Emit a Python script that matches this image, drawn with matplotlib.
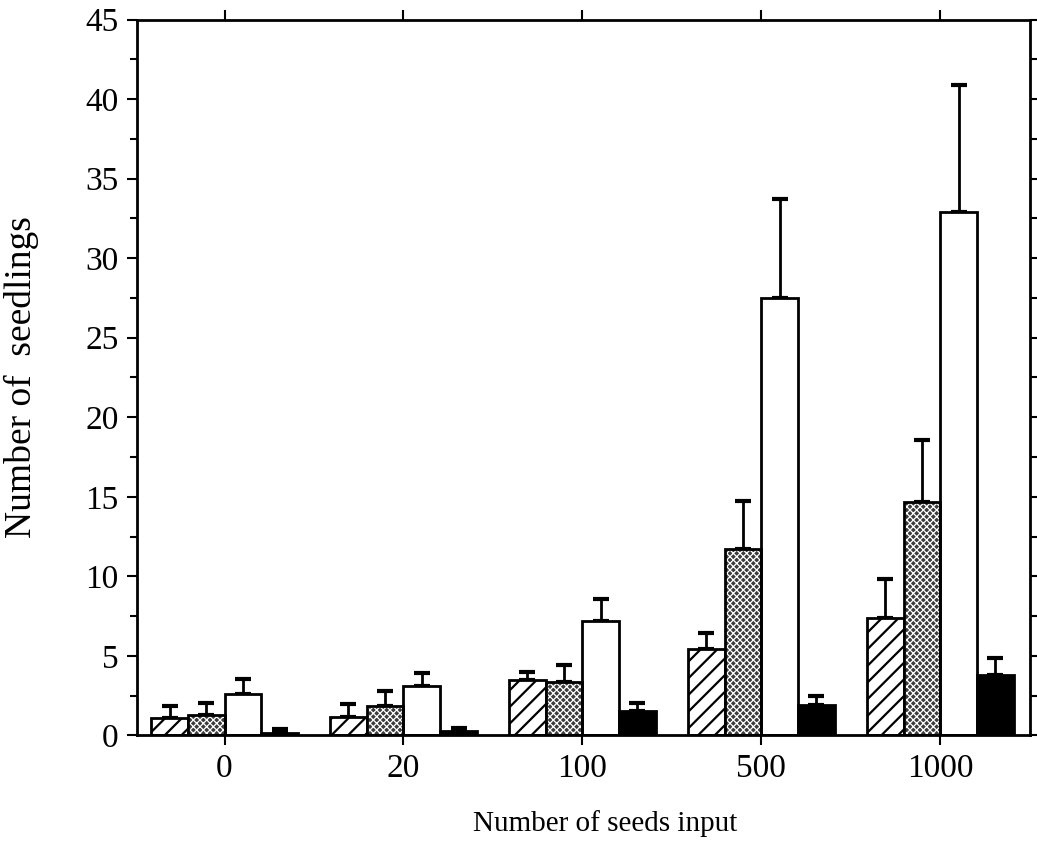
import matplotlib.pyplot as plt
import numpy as np
from matplotlib.ticker import MultipleLocator

plt.rcParams['font.family'] = ['Liberation Serif', 'DejaVu Serif']

# seed input levels (groups)
seeds = ["0", "20", "100", "500", "1000"]

# mean number of seedlings, four treatments
hatched = [1.1, 1.15, 3.45, 5.45, 7.35]
stippled = [1.3, 1.85, 3.35, 11.7, 14.7]
white = [2.6, 3.1, 7.2, 27.5, 32.9]
black = [0.15, 0.3, 1.55, 1.9, 3.8]

# upper error bars
hatched_err = [0.75, 0.8, 0.5, 1.0, 2.45]
stippled_err = [0.7, 0.95, 1.05, 3.05, 3.9]
white_err = [0.95, 0.8, 1.4, 6.2, 8.0]
black_err = [0.25, 0.15, 0.45, 0.55, 1.05]

fig = plt.figure(figsize=(10.37, 8.56), dpi=100)
ax = fig.add_axes([0.132, 0.141, 0.861, 0.836])

x = np.arange(len(seeds))
w = 0.205
lw = 2.0

series = [
    (hatched, hatched_err, "white", "//"),
    (stippled, stippled_err, "#3c3c3c", "xxxxx"),
    (white, white_err, "white", None),
    (black, black_err, "black", None),
]

for i, (vals, err, fc, hatch) in enumerate(series):
    pos = x + (i - 1.5) * w
    yerr = [np.zeros(len(vals)), err]
    ax.errorbar(pos, vals, yerr=yerr, fmt="none", ecolor="black",
                elinewidth=lw, capsize=6, capthick=3, zorder=1)
    if hatch == "xxxxx":
        # stipple: fine white crosshatch on dark grey, then black outline
        plt.rcParams['hatch.linewidth'] = 0.9
        ax.bar(pos, vals, w, color=fc, edgecolor="white", hatch=hatch,
               linewidth=0, zorder=2)
        ax.bar(pos, vals, w, facecolor="none", edgecolor="black",
               linewidth=lw, zorder=3)
    else:
        plt.rcParams['hatch.linewidth'] = 1.6
        ax.bar(pos, vals, w, color=fc, edgecolor="black", hatch=hatch,
               linewidth=lw, zorder=2)

ax.set_xlim(-0.49, 4.5)
ax.set_ylim(0, 45)
ax.set_xticks(x)
ax.set_xticklabels(seeds)
ax.yaxis.set_major_locator(MultipleLocator(5))
ax.yaxis.set_minor_locator(MultipleLocator(2.5))

for s in ax.spines.values():
    s.set_linewidth(lw)

ax.tick_params(axis="both", which="major", direction="out", length=7,
               width=1.5, labelsize=24, pad=6)
ax.tick_params(axis="y", which="minor", direction="out", length=5, width=1.5)
ax.tick_params(axis="x", top=True)
ax.tick_params(axis="y", which="both", right=True)

ax.set_ylabel("Number of  seedlings", fontsize=27)
ax.yaxis.set_label_coords(-0.11, 0.5)
ax.set_xlabel("Number of seeds input", fontsize=21)
ax.xaxis.set_label_coords(0.524, -0.105)

fig.savefig("out.png", dpi=100)
